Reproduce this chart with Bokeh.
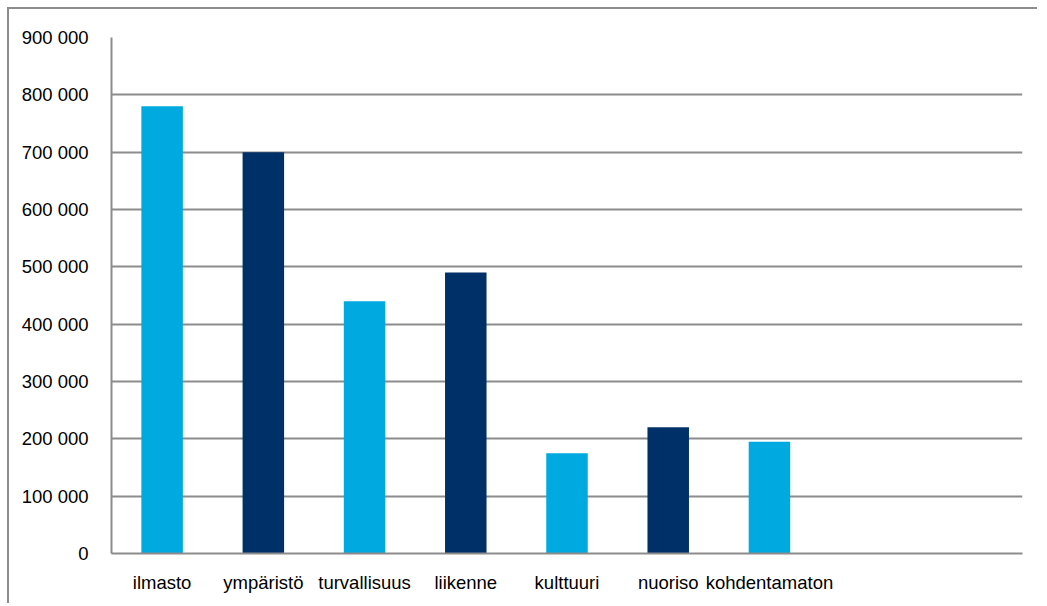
from bokeh.plotting import figure
from bokeh.models import Range1d, FactorRange, SingleIntervalTicker, CustomJSTickFormatter
from bokeh.embed import file_html
from bokeh.resources import INLINE

categories = ["ilmasto", "ympäristö", "turvallisuus", "liikenne", "kulttuuri", "nuoriso", "kohdentamaton", " ", "  "]
values = [780000, 700000, 440000, 490000, 175000, 220000, 195000, 0, 0]
colors = ["#00A9E0", "#003068", "#00A9E0", "#003068", "#00A9E0", "#003068", "#00A9E0", "#00A9E0", "#00A9E0"]

p = figure(width=1030, height=596, x_range=FactorRange(factors=categories, range_padding=0),
           y_range=Range1d(0, 900000), output_backend="svg", toolbar_location=None,
           min_border_left=102, min_border_top=28, min_border_right=17, min_border_bottom=52)
p.margin = (7, 0, 0, 7)
p.styles = {"border-left": "2px solid #8c8c8c", "border-top": "2px solid #8c8c8c"}

p.vbar(x=categories[:7], top=values[:7], width=0.41, color=colors[:7], line_color=None)

p.outline_line_color = None
p.xgrid.grid_line_color = None
p.ygrid.grid_line_color = "#8c8c8c"
p.ygrid.grid_line_width = 2
p.yaxis.ticker = SingleIntervalTicker(interval=100000)
p.yaxis.formatter = CustomJSTickFormatter(code="return tick.toString().replace(/\\B(?=(\\d{3})+(?!\\d))/g, ' ');")
for ax in (p.xaxis[0], p.yaxis[0]):
    ax.axis_line_color = "#8c8c8c"
    ax.axis_line_width = 2
    ax.major_tick_line_color = None
    ax.minor_tick_line_color = None
    ax.major_label_text_font = "Liberation Sans"
    ax.major_label_text_font_size = "18.5px"
    ax.major_label_text_color = "#000000"
p.yaxis.major_label_standoff = 17
p.xaxis.major_label_standoff = 12

open("out.html", "w").write(file_html(p, INLINE))
